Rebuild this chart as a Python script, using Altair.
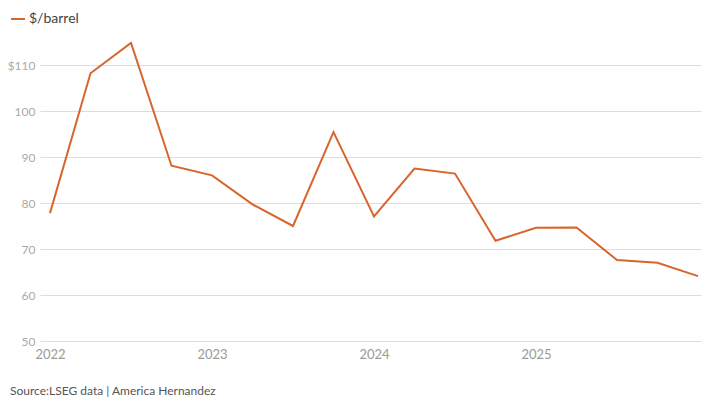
import altair as alt
import pandas as pd

quarter_index = list(range(17))
prices = [77.8, 108.2, 114.8, 88.1, 86.0, 79.7, 75.0, 95.4, 77.1, 87.5, 86.4, 71.8, 74.6, 74.7, 67.6, 67.0, 64.1]
year_ticks = [0, 4, 8, 12]
year_labels = ["2022", "2023", "2024", "2025"]
y_ticks = [50, 60, 70, 80, 90, 100, 110]

df = pd.DataFrame({"q": quarter_index, "price": prices, "series": ["$/barrel"] * len(prices)})

label_expr = "{" + ",".join(f"'{t}':'{l}'" for t, l in zip(year_ticks, year_labels)) + "}[datum.value]"

FONT = "Lato"
ORANGE = "#d8652c"

chart = alt.Chart(df).mark_line(strokeWidth=2, color=ORANGE).encode(
    x=alt.X("q:Q",
            scale=alt.Scale(domain=[-0.247, 16.074], nice=False, zero=False),
            axis=alt.Axis(values=year_ticks, labelExpr=label_expr, grid=False, domain=False,
                          ticks=False, title=None, labelColor="#9a9a9a", labelFontSize=13,
                          labelPadding=7, labelFont=FONT)),
    y=alt.Y("price:Q",
            scale=alt.Scale(domain=[50, 120], nice=False, zero=False),
            axis=alt.Axis(values=y_ticks, labelExpr="datum.value == 110 ? '$110' : datum.label",
                          grid=True, gridColor="#dddddd", gridWidth=1, domain=False, ticks=False,
                          title=None, labelColor="#aaaaaa", labelFontSize=12, labelPadding=5,
                          labelFont=FONT)),
    color=alt.Color("series:N", scale=alt.Scale(range=[ORANGE]),
                    legend=alt.Legend(title=None, orient="none", legendX=-30, legendY=-8,
                                      symbolType="stroke", symbolStrokeWidth=2, symbolSize=196,
                                      labelFontSize=14, labelColor="#444444", labelFont=FONT,
                                      symbolOffset=0, labelOffset=3, padding=0)),
).properties(
    width=661,
    height=322,
    autosize=alt.AutoSizeParams(type="none"),
    padding={"left": 32, "top": 11, "right": 0, "bottom": 58},
    title=alt.TitleParams("Source:LSEG data | America Hernandez", orient="bottom", anchor="start",
                          frame="group", dx=-30, offset=25, fontSize=12, fontWeight="normal",
                          color="#555555", font=FONT),
).configure_view(stroke=None)

chart.save("out.html", embed_options={"renderer": "svg", "actions": False})
